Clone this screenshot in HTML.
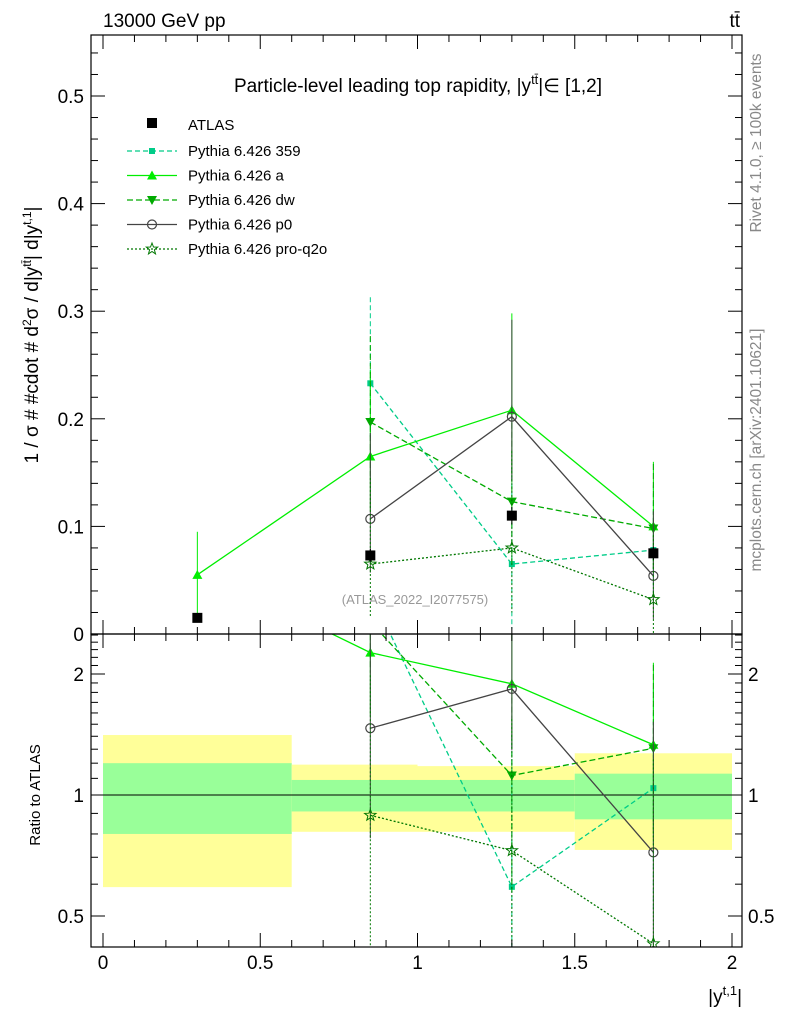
<!DOCTYPE html>
<html><head><meta charset="utf-8">
<style>
html,body{margin:0;padding:0;background:#fff;overflow:hidden;width:786px;height:1024px;}
svg{display:block;overflow:hidden;}
svg text{font-family:"Liberation Sans",sans-serif;}
</style></head>
<body>
<svg id="c" width="786" height="1024" xmlns="http://www.w3.org/2000/svg">
<text x="103" y="27" font-size="19">13000 GeV pp</text>
<text x="740" y="27" font-size="19" text-anchor="end">tt̄</text>
<text x="418" y="92" font-size="19" text-anchor="middle">Particle-level leading top rapidity, |y<tspan dy="-8" font-size="13">tt̄</tspan><tspan dy="8">|∈ [1,2]</tspan></text>
<text transform="translate(761,143) rotate(-90)" font-size="15.5" fill="#888" text-anchor="middle">Rivet 4.1.0, ≥ 100k events</text>
<text transform="translate(761,450) rotate(-90)" font-size="15.5" fill="#888" text-anchor="middle">mcplots.cern.ch [arXiv:2401.10621]</text>
<text x="415" y="604" font-size="13" fill="#999" text-anchor="middle">(ATLAS_2022_I2077575)</text>
<text transform="translate(38,335) rotate(-90)" font-size="19" text-anchor="middle">1 / σ # #cdot # d<tspan dy="-7" font-size="12">2</tspan><tspan dy="7">σ / d|y</tspan><tspan dy="-7" font-size="12">tt̄</tspan><tspan dy="7">| d|y</tspan><tspan dy="-7" font-size="12">t,1</tspan><tspan dy="7">|</tspan></text>
<text transform="translate(40,795) rotate(-90)" font-size="15" text-anchor="middle">Ratio to ATLAS</text>
<text x="742" y="1003" font-size="19" text-anchor="end">|y<tspan dy="-8" font-size="13">t,1</tspan><tspan dy="8">|</tspan></text>
<g id="bands"></g><g id="marks"></g><g id="axes"></g><g id="legend"></g>
</svg>
<script>
const xs=[0.3,0.85,1.3,1.75];
const atlas=[0.015,0.073,0.11,0.075];
const atlasErr=[0.003,0.006,0.008,0.006];
const s359=[null,0.233,0.065,0.078];
const sA=[0.055,0.165,0.208,0.1];
const sDW=[null,0.197,0.123,0.098];
const sP0=[null,0.107,0.202,0.054];
const sQ2O=[null,0.065,0.08,0.032];
const errUp=[0.04,0.08,0.09,0.06];
const errDn=[0.04,0.05,0.06,0.04];
const binEdges=[0,0.6,1.0,1.5,2.0];
const yelLo=[0.59,0.81,0.81,0.73],yelHi=[1.41,1.19,1.18,1.27];
const grnLo=[0.8,0.91,0.91,0.87],grnHi=[1.2,1.09,1.09,1.13];
const mainTicks=[0,0.1,0.2,0.3,0.4,0.5];
const mainTickLabels=["0","0.1","0.2","0.3","0.4","0.5"];
const xTicks=[0,0.5,1,1.5,2];
const xTickLabels=["0","0.5","1","1.5","2"];
const ratioTicks=[0.5,1,2];
const ratioTickLabels=["0.5","1","2"];

const L=91,R=742,T=35,M=634,B=947;
const X=v=>103+v*314.5;
const Y=v=>634-v*1076;
const RY=r=>795-121*Math.log2(r);
const NS="http://www.w3.org/2000/svg";
function el(p,t,a){const e=document.createElementNS(NS,t);for(const k in a)e.setAttribute(k,a[k]);p.appendChild(e);return e;}
const bands=document.getElementById('bands'),marks=document.getElementById('marks'),axes=document.getElementById('axes'),leg=document.getElementById('legend');
const clip=el(document.getElementById('c'),'clipPath',{id:'rc'});el(clip,'rect',{x:L,y:M,width:R-L,height:B-M});
const clip2=el(document.getElementById('c'),'clipPath',{id:'mc'});el(clip2,'rect',{x:L,y:T,width:R-L,height:M-T});
for(let i=0;i<4;i++){
 let r=el(bands,'rect',{x:X(binEdges[i]),y:RY(yelHi[i]),width:X(binEdges[i+1])-X(binEdges[i]),height:RY(yelLo[i])-RY(yelHi[i]),fill:'#ffff99'});
 
 let g=el(bands,'rect',{x:X(binEdges[i]),y:RY(grnHi[i]),width:X(binEdges[i+1])-X(binEdges[i]),height:RY(grnLo[i])-RY(grnHi[i]),fill:'#99ff99'});
 
}
el(bands,'line',{x1:L,x2:R,y1:RY(1),y2:RY(1),stroke:'#000','stroke-width':1});
function marker(g,type,x,y,c){
 if(type==='sq')return el(g,'rect',{x:x-3,y:y-3,width:6,height:6,fill:c});
 if(type==='tri')return el(g,'polygon',{points:`${x},${y-5} ${x-5},${y+4} ${x+5},${y+4}`,fill:c});
 if(type==='itri')return el(g,'polygon',{points:`${x},${y+5} ${x-5},${y-4} ${x+5},${y-4}`,fill:c});
 if(type==='circ')return el(g,'circle',{cx:x,cy:y,r:4.5,fill:'none',stroke:c,'stroke-width':1.2});
 if(type==='star'){let p=[];for(let k=0;k<10;k++){const rr=k%2?2.5:6,a=-Math.PI/2+k*Math.PI/5;p.push((x+rr*Math.cos(a)).toFixed(1)+','+(y+rr*Math.sin(a)).toFixed(1));}return el(g,'polygon',{points:p.join(' '),fill:'none',stroke:c,'stroke-width':1});}
}
const series=[
 {n:'Pythia 6.426 359',d:s359,c:'#00cc88',dash:'5,3',m:'sq',name:'series-359'},
 {n:'Pythia 6.426 a',d:sA,c:'#00ee00',dash:'',m:'tri',name:'series-a'},
 {n:'Pythia 6.426 dw',d:sDW,c:'#00aa00',dash:'6,3',m:'itri',name:'series-dw'},
 {n:'Pythia 6.426 p0',d:sP0,c:'#444444',dash:'',m:'circ',name:'series-p0'},
 {n:'Pythia 6.426 pro-q2o',d:sQ2O,c:'#007700',dash:'2,2',m:'star',name:'series-pro-q2o'}];
series.forEach(s=>{
 const gm=el(marks,'g',{'clip-path':'url(#mc)'});
 const gr=el(marks,'g',{'clip-path':'url(#rc)'});
 let pm=[],pr=[];
 xs.forEach((x,i)=>{const v=s.d[i];if(v==null)return;
  pm.push(X(x)+','+Y(v));pr.push(X(x)+','+RY(v/atlas[i]));
  el(gm,'line',{x1:X(x),x2:X(x),y1:Y(v+errUp[i]),y2:Y(Math.max(0,v-errDn[i])),stroke:s.c,'stroke-width':1,'stroke-dasharray':s.dash});
  if(i>0)el(gr,'line',{x1:X(x),x2:X(x),y1:RY((v+errUp[i])/atlas[i]),y2:RY(Math.max(0.01,v-errDn[i])/atlas[i]),stroke:s.c,'stroke-width':1,'stroke-dasharray':s.dash});
 });
 el(gm,'polyline',{points:pm.join(' '),fill:'none',stroke:s.c,'stroke-width':1.3,'stroke-dasharray':s.dash});
 el(gr,'polyline',{points:pr.join(' '),fill:'none',stroke:s.c,'stroke-width':1.3,'stroke-dasharray':s.dash});
 xs.forEach((x,i)=>{const v=s.d[i];if(v==null)return;marker(gm,s.m,X(x),Y(v),s.c);marker(gr,s.m,X(x),RY(v/atlas[i]),s.c);});
});
const ga=el(marks,'g',{});
xs.forEach((x,i)=>{el(ga,'line',{x1:X(x),x2:X(x),y1:Y(atlas[i]+atlasErr[i]),y2:Y(atlas[i]-atlasErr[i]),stroke:'#000'});
 el(ga,'rect',{x:X(x)-5,y:Y(atlas[i])-5,width:10,height:10,fill:'#000'});});
el(axes,'rect',{x:L,y:T,width:R-L,height:M-T,fill:'none',stroke:'#000','stroke-width':1.2});
el(axes,'rect',{x:L,y:M,width:R-L,height:B-M,fill:'none',stroke:'#000','stroke-width':1.2});
mainTicks.forEach((t,i)=>{const y=Y(t);
 el(axes,'line',{x1:L,x2:L+14,y1:y,y2:y,stroke:'#000'});el(axes,'line',{x1:R-14,x2:R,y1:y,y2:y,stroke:'#000'});
 const tx=el(axes,'text',{x:L-7,y:y+7,'font-size':19,'text-anchor':'end'});tx.textContent=mainTickLabels[i];
 
 for(let k=1;k<5;k++){const yy=Y(t+k*0.02);if(yy>T){el(axes,'line',{x1:L,x2:L+7,y1:yy,y2:yy,stroke:'#000'});el(axes,'line',{x1:R-7,x2:R,y1:yy,y2:yy,stroke:'#000'});}}
});
xTicks.forEach((t,i)=>{const x=X(t);
 [[M,T],[B,M]].forEach(([b,tp])=>{el(axes,'line',{x1:x,x2:x,y1:b,y2:b-14,stroke:'#000'});el(axes,'line',{x1:x,x2:x,y1:tp,y2:tp+14,stroke:'#000'});});
 for(let k=1;k<5;k++){const xx=X(t+k*0.1);if(xx<R){[[M,T],[B,M]].forEach(([b,tp])=>{el(axes,'line',{x1:xx,x2:xx,y1:b,y2:b-7,stroke:'#000'});el(axes,'line',{x1:xx,x2:xx,y1:tp,y2:tp+7,stroke:'#000'});});}}
 const tx=el(axes,'text',{x:x,y:B+22,'font-size':19,'text-anchor':'middle'});tx.textContent=xTickLabels[i];
 
});
ratioTicks.forEach((t,i)=>{const y=RY(t);
 el(axes,'line',{x1:L,x2:L+14,y1:y,y2:y,stroke:'#000'});el(axes,'line',{x1:R-14,x2:R,y1:y,y2:y,stroke:'#000'});
 const a=el(axes,'text',{x:L-7,y:y+7,'font-size':19,'text-anchor':'end'});a.textContent=ratioTickLabels[i];
 
 const b=el(axes,'text',{x:748,y:y+7,'font-size':19});b.textContent=ratioTickLabels[i];
 
});
for(let k=4;k<=25;k++){const t=k/10;if(t===0.5||t===1||t===2)continue;const y=RY(t);if(y<M||y>B)continue;
 el(axes,'line',{x1:L,x2:L+7,y1:y,y2:y,stroke:'#000'});el(axes,'line',{x1:R-7,x2:R,y1:y,y2:y,stroke:'#000'});}
const e0=el(leg,'g',{});
el(e0,'rect',{x:147,y:118,width:10,height:10,fill:'#000'});
const t0=el(e0,'text',{x:188,y:130,'font-size':15});t0.textContent='ATLAS';
series.forEach((s,i)=>{const y=151+i*24.5;
 const g=el(leg,'g',{});
 el(g,'line',{x1:127,x2:177,y1:y,y2:y,stroke:s.c,'stroke-width':1.3,'stroke-dasharray':s.dash});
 marker(g,s.m,152,y,s.c);
 const t=el(g,'text',{x:188,y:y+5,'font-size':15});t.textContent=s.n;});
</script>
</body></html>
